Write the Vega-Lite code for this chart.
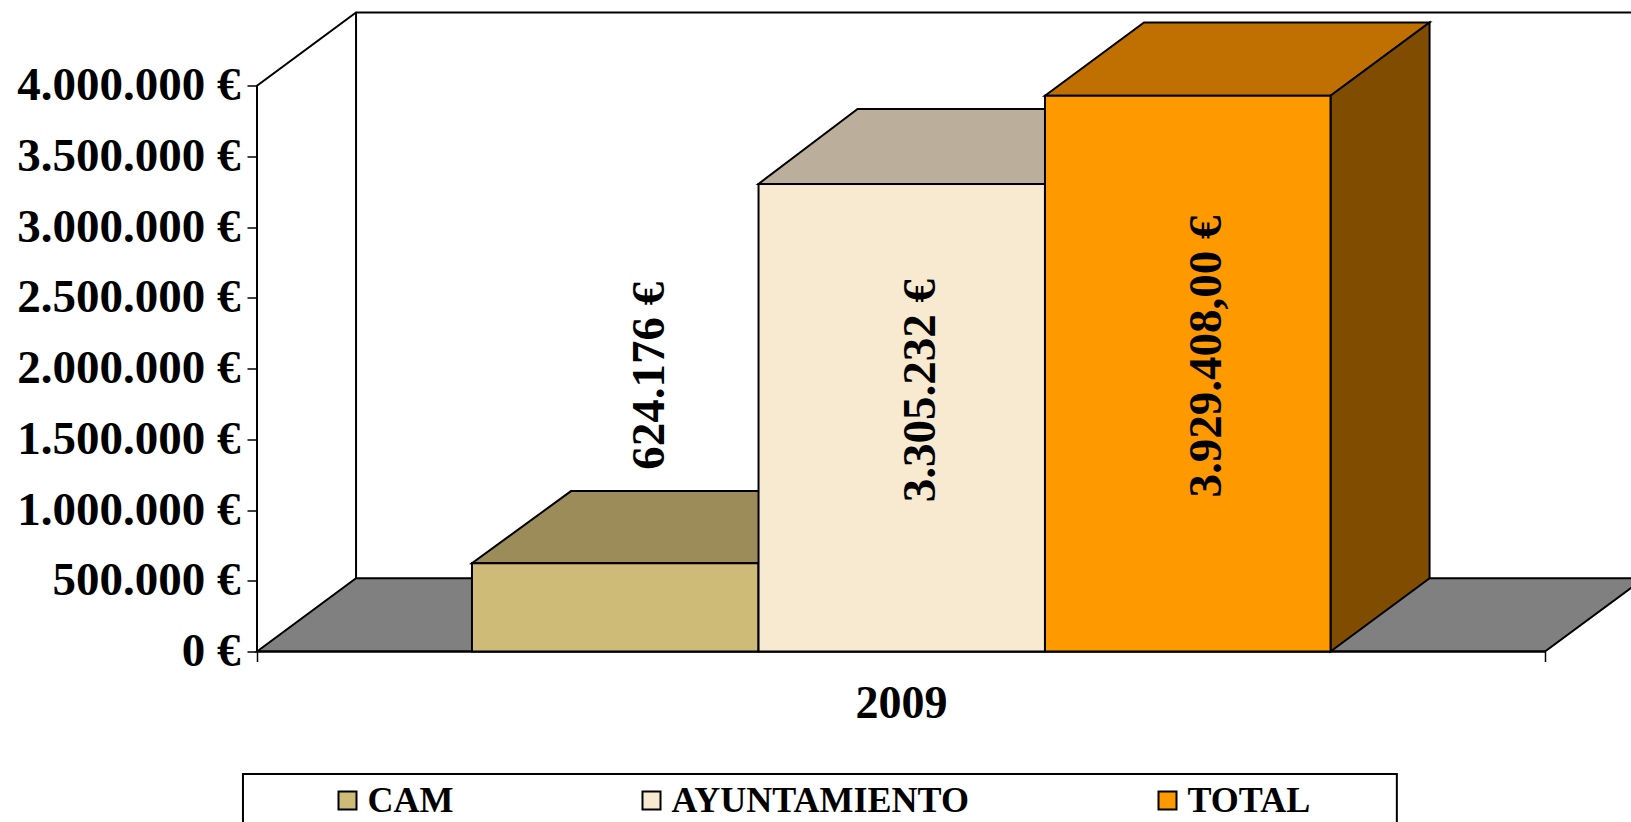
{
"$schema":"https://vega.github.io/schema/vega-lite/v6.json",
"autosize":{"type":"none"},
"padding":{"left":257,"top":12.5,"right":0,"bottom":170.5},
"width":1374,"height":639,
"background":"white",
"config":{"view":{"stroke":null},"font":"Liberation Serif"},
"datasets":{
"frame":[{"x":-0.0109,"x2":0.885,"y":-866000,"y2":-1400000}],
"lines":[
{"seg":"eje","x":0,"y":0},{"seg":"eje","x":0,"y":4000000},{"seg":"eje","x":0.0769,"y":4517500},{"seg":"eje","x":1.0769,"y":4517500},
{"seg":"fondo","x":0.0769,"y":517500},{"seg":"fondo","x":0.0769,"y":4517500},
{"seg":"base","x":0,"y":0},{"seg":"base","x":1,"y":0}
],
"floor":[
{"x":0,"y":0,"y2":0},{"x":0.0769,"y":0,"y2":517500},{"x":1,"y":0,"y2":517500},{"x":1.0769,"y":517500,"y2":517500}
],
"shade":[
{"face":"CAM techo","x":0.1669,"y":624176,"y2":624176},{"face":"CAM techo","x":0.2438,"y":624176,"y2":1134000},{"face":"CAM techo","x":0.3894,"y":624176,"y2":1134000},{"face":"CAM techo","x":0.4663,"y":1134000,"y2":1134000},
{"face":"AYUNTAMIENTO techo","x":0.3894,"y":3305232,"y2":3305232},{"face":"AYUNTAMIENTO techo","x":0.4663,"y":3305232,"y2":3835000},{"face":"AYUNTAMIENTO techo","x":0.6118,"y":3305232,"y2":3835000},{"face":"AYUNTAMIENTO techo","x":0.6887,"y":3835000,"y2":3835000},
{"face":"TOTAL techo","x":0.6118,"y":3929408,"y2":3929408},{"face":"TOTAL techo","x":0.6887,"y":3929408,"y2":4446908},{"face":"TOTAL techo","x":0.8335,"y":3929408,"y2":4446908},{"face":"TOTAL techo","x":0.9104,"y":4446908,"y2":4446908},
{"face":"TOTAL lateral","x":0.8335,"y":0,"y2":3929408},{"face":"TOTAL lateral","x":0.9104,"y":517500,"y2":4446908}
],
"front":[
{"serie":"CAM","x":0.1669,"y":0,"y2":624176},{"serie":"CAM","x":0.3894,"y":0,"y2":624176},
{"serie":"AYUNTAMIENTO","x":0.3894,"y":0,"y2":3305232},{"serie":"AYUNTAMIENTO","x":0.6118,"y":0,"y2":3305232},
{"serie":"TOTAL","x":0.6118,"y":0,"y2":3929408},{"serie":"TOTAL","x":0.8335,"y":0,"y2":3929408}
],
"labels":[
{"label":"624.176 €","x":0.3055,"y":1950000},
{"label":"3.305.232 €","x":0.5152,"y":1845000},
{"label":"3.929.408,00 €","x":0.7373,"y":2085000}
]
},
"encoding":{
"x":{"field":"x","type":"quantitative","scale":{"domain":[0,1.0668],"nice":false,"zero":false},
"axis":{"values":[0,1],"labels":false,"domain":false,"grid":false,"ticks":true,"tickSize":10,"tickWidth":1.5,"tickColor":"black",
"title":"2009","titleFont":"Liberation Serif","titleFontSize":46,"titleFontWeight":"bold","titleColor":"black","titleX":644,"titleY":66,"titleAlign":"center","titleBaseline":"alphabetic"}},
"y":{"field":"y","type":"quantitative","stack":null,"scale":{"domain":[0,4517500],"nice":false},
"axis":{"values":[0,500000,1000000,1500000,2000000,2500000,3000000,3500000,4000000],"domain":false,"grid":false,"tickSize":10,"tickWidth":1.5,"tickColor":"black","title":null,
"labelExpr":"replace(format(datum.value,',.0f'),/,/g,'.')+' €'","labelFont":"Liberation Serif","labelFontSize":47,"labelFontWeight":"bold","labelColor":"black","labelPadding":7,"labelOverlap":false,"labelFlush":false,"labelBound":false,"labelLimit":400}}
},
"layer":[
{"data":{"name":"floor"},"mark":{"type":"area","fill":"#808080","stroke":"black","strokeWidth":2},"encoding":{"y2":{"field":"y2"}}},
{"data":{"name":"lines"},"mark":{"type":"line","color":"black","strokeWidth":2},"encoding":{"detail":{"field":"seg"},"order":{"field":"y"}}},
{"data":{"name":"shade"},"mark":{"type":"area","stroke":"black","strokeWidth":2},"encoding":{"y2":{"field":"y2"},
"fill":{"field":"face","type":"nominal","legend":null,"scale":{"domain":["CAM techo","AYUNTAMIENTO techo","TOTAL techo","TOTAL lateral"],"range":["#9C8C5A","#BBAF9C","#BF7000","#7F4C00"]}}}},
{"data":{"name":"front"},"mark":{"type":"area","stroke":"black","strokeWidth":2},"encoding":{"y2":{"field":"y2"},
"color":{"field":"serie","type":"nominal","scale":{"domain":["CAM","AYUNTAMIENTO","TOTAL"],"range":["#CDBB77","#F8EAD0","#FF9900"]},
"legend":{"title":null,"orient":"none","legendX":72.5,"legendY":770,"direction":"horizontal","columns":3,"columnPadding":180,"symbolType":"square","symbolSize":324,"symbolStrokeColor":"black","symbolStrokeWidth":2,"symbolOpacity":1,"labelFont":"Liberation Serif","labelFontSize":36,"labelFontWeight":"bold","labelColor":"black","labelOffset":2,"labelLimit":600,"padding":0}}}},
{"data":{"name":"frame"},"mark":{"type":"rect","fill":"white","stroke":"black","strokeWidth":2},"encoding":{"x2":{"field":"x2"},"y2":{"field":"y2"}}},
{"data":{"name":"labels"},"mark":{"type":"text","angle":270,"align":"center","baseline":"middle","font":"Liberation Serif","fontSize":47,"fontWeight":"bold","color":"black"},"encoding":{"text":{"field":"label"}}}
],
"resolve":{"scale":{"fill":"independent","color":"independent"}}
}
